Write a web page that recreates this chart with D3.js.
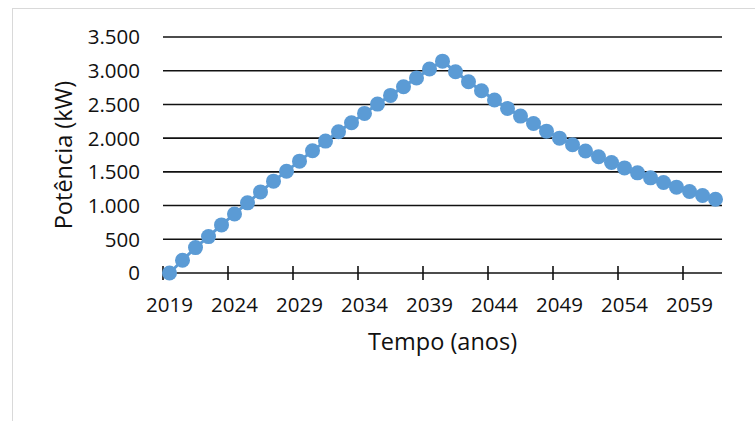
<!DOCTYPE html>
<html><head><meta charset="utf-8">
<script src="https://cdn.jsdelivr.net/npm/d3@7"></script>
<style>html,body{margin:0;padding:0;background:#fff;}svg{display:block;}</style>
</head><body>
<svg id="chart" width="755" height="421"></svg>
<script>
const years = d3.range(2019, 2062);
const potencia = [0, 189, 377, 540, 713, 876, 1040, 1203, 1362, 1510,
  1659, 1812, 1956, 2094, 2228, 2367, 2505, 2634, 2762, 2891, 3025,
  3142, 2985, 2836, 2703, 2565, 2441, 2327, 2218, 2104, 2000, 1901,
  1810, 1723, 1639, 1559, 1485, 1411, 1342, 1273, 1209, 1149, 1094];
const yTicks = [0, 500, 1000, 1500, 2000, 2500, 3000, 3500];
const xLabelYears = [2019, 2024, 2029, 2034, 2039, 2044, 2049, 2054, 2059];
const xTitle = "Tempo (anos)";
const yTitle = "Potência (kW)";

const svg = d3.select("#chart");
const font = "'Open Sans', Lato, sans-serif";
const m = {left: 163, right: 722, top: 37, bottom: 273};

svg.append("rect").attr("x", 12.5).attr("y", 8.5).attr("width", 800).attr("height", 500)
  .attr("fill", "#fff").attr("stroke", "#d9d9d9").attr("stroke-width", 1);

const x = d3.scaleBand().domain(years).range([m.left, m.right]).padding(0);
const y = d3.scaleLinear().domain([0, 3500]).range([m.bottom, m.top]);

// gridlines
svg.append("g").selectAll("line").data(yTicks.filter(d => d > 0)).join("line")
  .attr("x1", m.left).attr("x2", m.right)
  .attr("y1", d => y(d)).attr("y2", d => y(d))
  .attr("stroke", "#111").attr("stroke-width", 1.6);

// y labels
svg.append("g").selectAll("text").data(yTicks).join("text")
  .attr("x", 140).attr("y", d => y(d)).attr("dy", "0.36em")
  .attr("text-anchor", "end").attr("font-family", font).attr("font-size", 20.5)
  .attr("fill", "#111")
  .text(d => d3.format(",")(d).replace(/,/g, "."));

// x axis
const xAxis = svg.append("g");
xAxis.append("line").attr("x1", m.left).attr("x2", m.right)
  .attr("y1", y(0)).attr("y2", y(0)).attr("stroke", "#111").attr("stroke-width", 1.6);
xAxis.selectAll("line.tick").data(xLabelYears).join("line").attr("class", "tick")
  .attr("x1", d => x(d)).attr("x2", d => x(d))
  .attr("y1", y(0) - 7).attr("y2", y(0) + 7)
  .attr("stroke", "#111").attr("stroke-width", 1.6);
xAxis.selectAll("text").data(xLabelYears).join("text")
  .attr("x", d => x(d) + x.bandwidth() / 2).attr("y", 312)
  .attr("text-anchor", "middle").attr("font-family", font).attr("font-size", 20.5)
  .attr("fill", "#111").text(d => d);

// titles
svg.append("text").attr("x", (m.left + m.right) / 2).attr("y", 350)
  .attr("text-anchor", "middle").attr("font-family", font).attr("font-size", 23.5)
  .attr("fill", "#111").text(xTitle);
svg.append("text").attr("transform", `translate(72,${(m.top + m.bottom) / 2}) rotate(-90)`)
  .attr("text-anchor", "middle").attr("font-family", font).attr("font-size", 23.5)
  .attr("fill", "#111").text(yTitle);

// series
const cx = d => x(d) + x.bandwidth() / 2;
const line = d3.line().x((d, i) => cx(years[i])).y(d => y(d));
svg.append("path").datum(potencia).attr("d", line)
  .attr("fill", "none").attr("stroke", "#5B9BD5").attr("stroke-width", 3);
svg.append("g").selectAll("circle").data(potencia).join("circle")
  .attr("cx", (d, i) => cx(years[i])).attr("cy", d => y(d)).attr("r", 7.5)
  .attr("fill", "#5B9BD5");
</script>
</body></html>
